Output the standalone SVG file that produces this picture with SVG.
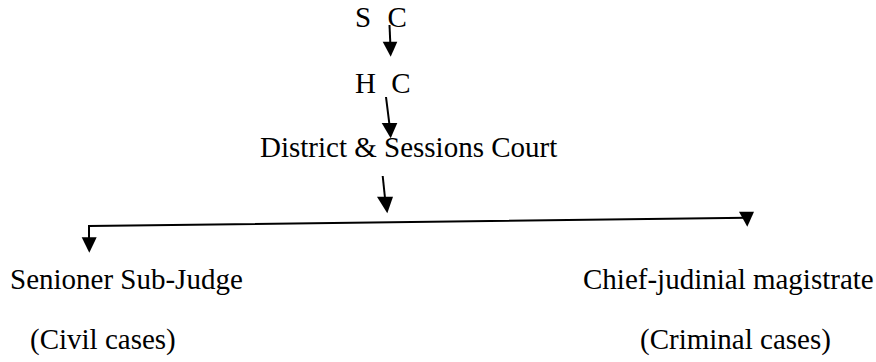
<svg xmlns="http://www.w3.org/2000/svg" width="876" height="362" viewBox="0 0 876 362">
<style>
text{font-family:'Liberation Serif','Times New Roman',Times,serif;font-size:29px;fill:#000}
.c{stroke:#000;stroke-width:2;fill:none}
.h{fill:#000;stroke:none}
</style>
<rect width="876" height="362" fill="#fff"/>
<g id="node-sc"><text x="355" y="27" style="word-spacing:9px">S C</text></g>
<g id="node-hc"><text x="355" y="93" style="word-spacing:8px">H C</text></g>
<g id="node-district"><text x="260" y="157">District &amp; Sessions Court</text></g>
<g id="node-senior"><text x="10" y="289">Senioner Sub-Judge</text><text x="30" y="349">(Civil cases)</text></g>
<g id="node-chief"><text x="583" y="289">Chief-judinial magistrate</text><text x="640" y="349">(Criminal cases)</text></g>
<g id="connectors">
<line class="c" x1="389.5" y1="25" x2="390.3" y2="43"/>
<polygon class="h" points="382.7,41.7 397.3,41.7 390.7,56.7"/>
<line class="c" x1="386" y1="97" x2="389.5" y2="125"/>
<polygon class="h" points="381.7,123 397.3,123 390.7,138.3"/>
<line class="c" x1="382.7" y1="176" x2="385" y2="198"/>
<polygon class="h" points="377,196.7 393,196.7 387.3,213.3"/>
<polyline class="c" points="89,239 89,226 747,217.7"/>
<polygon class="h" points="81.7,237.3 96.7,237.3 89.3,252.7"/>
<polygon class="h" points="739,211.7 754,211.7 747.3,226.7"/>
</g>
</svg>
